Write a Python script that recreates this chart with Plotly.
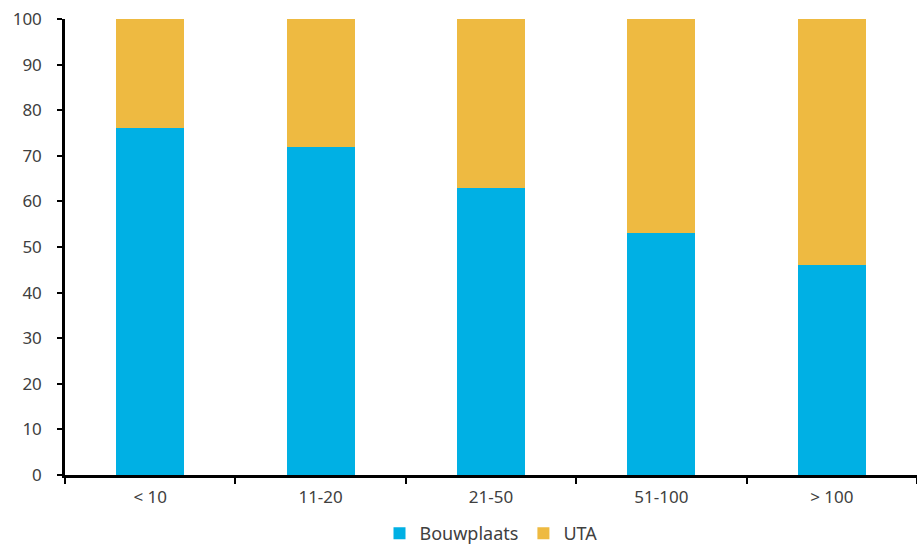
import plotly.graph_objects as go

categories = ["< 10", "11-20", "21-50", "51-100", "> 100"]
bouwplaats = [76, 72, 63, 53, 46]
uta = [24, 28, 37, 47, 54]
y_ticks = [0, 10, 20, 30, 40, 50, 60, 70, 80, 90, 100]

fig = go.Figure()
fig.add_trace(go.Bar(name="Bouwplaats", x=categories, y=bouwplaats,
                     marker=dict(color="#00B0E4", line=dict(width=0))))
fig.add_trace(go.Bar(name="UTA", x=categories, y=uta,
                     marker=dict(color="#EEBA41", line=dict(width=0))))

font_family = "Noto Sans, DejaVu Sans, sans-serif"
fig.update_layout(
    barmode="stack",
    bargap=0.6,
    width=917, height=550,
    margin=dict(l=65, r=0, t=19, b=75, autoexpand=False),
    plot_bgcolor="white", paper_bgcolor="white",
    font=dict(family=font_family, size=17, color="#404040"),
    showlegend=True,
    legend=dict(orientation="h", x=0.5, xanchor="center", yref="container",
                y=0.03, yanchor="middle",
                font=dict(size=18, color="#404040"), traceorder="normal",
                itemwidth=30, tracegroupgap=0),
)
fig.update_xaxes(
    showline=True, linecolor="black", linewidth=2.5,
    ticks="outside", tickson="boundaries", ticklen=6, tickwidth=2, tickcolor="black",
    showgrid=False, tickfont=dict(size=17, color="#404040"),
    ticklabelstandoff=5,
)
fig.update_yaxes(
    range=[0, 100], tickvals=y_ticks,
    showline=True, linecolor="black", linewidth=2.5,
    ticks="outside", ticklen=5, tickwidth=2, tickcolor="black",
    showgrid=False, zeroline=False, tickfont=dict(size=17, color="#404040"),
    ticklabelstandoff=12,
)
fig.write_html("out.html")
